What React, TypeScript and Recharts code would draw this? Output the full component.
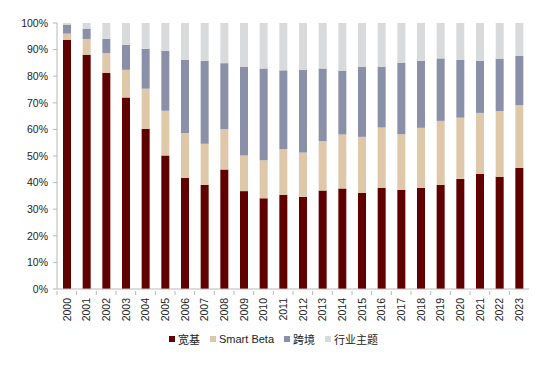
import { BarChart, Bar, XAxis, YAxis, Legend } from 'recharts'

const years = [
  '2000', '2001', '2002', '2003', '2004', '2005', '2006', '2007', '2008', '2009', '2010', '2011',
  '2012', '2013', '2014', '2015', '2016', '2017', '2018', '2019', '2020', '2021', '2022', '2023',
]
// 宽基
const broad = [93.7, 88.1, 81.2, 72.0, 60.2, 50.2, 41.8, 39.1, 44.9, 36.8, 34.1, 35.4, 34.6, 37.0, 37.8, 36.1, 38.1, 37.3, 38.0, 39.1, 41.4, 43.3, 42.2, 45.5]
// Smart Beta
const smartBeta = [2.3, 5.9, 7.5, 10.4, 15.1, 16.8, 16.8, 15.5, 15.2, 13.4, 14.3, 17.2, 16.7, 18.6, 20.3, 21.1, 22.6, 20.9, 22.6, 24.1, 23.0, 22.9, 24.7, 23.6]
// 跨境
const crossBorder = [3.4, 3.9, 5.3, 9.4, 15.0, 22.6, 27.5, 31.2, 24.8, 33.4, 34.5, 29.6, 31.1, 27.3, 24.0, 26.4, 22.9, 26.9, 25.2, 23.5, 21.7, 19.6, 19.7, 18.6]
// 行业主题
const sector = [0.6, 2.1, 6.0, 8.2, 9.7, 10.4, 13.9, 14.2, 15.1, 16.4, 17.1, 17.8, 17.6, 17.1, 17.9, 16.4, 16.4, 14.9, 14.2, 13.3, 13.9, 14.2, 13.4, 12.3]
const yTicks = [0, 10, 20, 30, 40, 50, 60, 70, 80, 90, 100]

const series = [
  { key: 'broad', label: '宽基', color: '#600000' },
  { key: 'smartBeta', label: 'Smart Beta', color: '#dfc7a9' },
  { key: 'crossBorder', label: '跨境', color: '#8a90a8' },
  { key: 'sector', label: '行业主题', color: '#d9dadc' },
]

const data = years.map((year, i) => ({
  year,
  broad: broad[i],
  smartBeta: smartBeta[i],
  crossBorder: crossBorder[i],
  sector: sector[i],
}))

const font = '"Liberation Sans", Arial, "Noto Sans CJK SC", sans-serif'
const axisColor = '#b8b8b8'
const plotWidth = 472
const halfBand = plotWidth / years.length / 2

function YearTick({ x, y, payload }: { x?: number; y?: number; payload?: { value: string } }) {
  const px = x ?? 0
  const py = y ?? 0
  return (
    <g>
      <line x1={px - halfBand} y1={py - 6} x2={px - halfBand} y2={py - 2} stroke={axisColor} />
      <text
        x={px} y={py + 1} transform={`rotate(-90, ${px}, ${py + 1})`}
        textAnchor="end" dy="0.35em" fill="#222" fontSize={10.5} fontFamily={font}
      >
        {payload?.value}
      </text>
    </g>
  )
}

function ChartLegend() {
  return (
    <div style={{
      display: 'flex', justifyContent: 'center', alignItems: 'center', height: 20,
      paddingLeft: 28, fontFamily: font, fontSize: 11, color: '#222',
    }}>
      {series.map((s) => (
        <div key={s.key} style={{ display: 'flex', alignItems: 'center', marginRight: 10 }}>
          <span style={{ width: 6, height: 6, background: s.color, marginRight: 3, display: 'inline-block' }} />
          <span>{s.label}</span>
        </div>
      ))}
    </div>
  )
}

export default function App() {
  return (
    <div style={{ position: 'absolute', left: 0, top: 0, background: '#fff' }}>
      <BarChart
        width={546} height={370} data={data}
        margin={{ top: 23, right: 17, left: 0, bottom: 21 }}
      >
        <XAxis
          dataKey="year" interval={0} height={40}
          tick={<YearTick />} tickLine={false}
          stroke={axisColor}
        />
        <YAxis
          domain={[0, 100]} ticks={yTicks} width={57} interval={0}
          tickFormatter={(v: number) => `${v}%`}
          tick={{ fill: '#222', fontSize: 10.5, fontFamily: font }}
          stroke={axisColor} tickSize={4} tickMargin={5}
        />
        <Legend verticalAlign="bottom" content={<ChartLegend />} />
        {series.map((s) => (
          <Bar
            key={s.key} dataKey={s.key} name={s.label} stackId="share"
            fill={s.color} barSize={8} isAnimationActive={false}
          />
        ))}
      </BarChart>
    </div>
  )
}
